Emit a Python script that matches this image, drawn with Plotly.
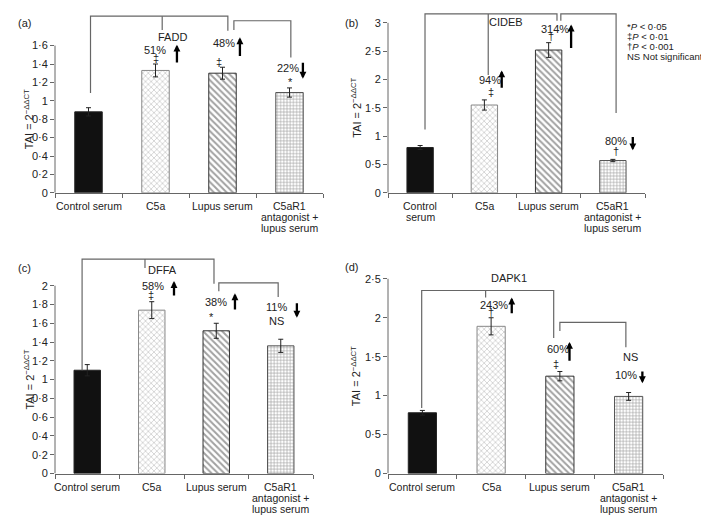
import plotly.graph_objects as go

W, H = 709, 515

# ---- data ----
labels = ["Control serum", "C5a", "Lupus serum", "C5aR1<br>antagonist +<br>lupus serum"]
labels_b = ["Control<br>serum", "C5a", "Lupus serum", "C5aR1<br>antagonist +<br>lupus serum"]
xpos = [0, 1, 2, 3]

fadd = [0.88, 1.33, 1.30, 1.09]
fadd_err = [0.045, 0.07, 0.065, 0.05]
cideb = [0.80, 1.55, 2.52, 0.57]
cideb_err = [0.035, 0.09, 0.13, 0.02]
dffa = [1.10, 1.74, 1.52, 1.36]
dffa_err = [0.06, 0.09, 0.08, 0.07]
dapk1 = [0.78, 1.89, 1.25, 0.99]
dapk1_err = [0.03, 0.11, 0.06, 0.05]

ticks_a = [0, 0.2, 0.4, 0.6, 0.8, 1, 1.2, 1.4, 1.6]
ticks_b = [0, 0.5, 1, 1.5, 2, 2.5, 3]
ticks_c = [0, 0.2, 0.4, 0.6, 0.8, 1, 1.2, 1.4, 1.6, 1.8, 2]
ticks_d = [0, 0.5, 1, 1.5, 2, 2.5]

# comparison brackets (category index, value)
brackets_a = [[(0.03, 1.085), (0.03, 1.92), (2.08, 1.92), (2.08, 1.76)],
              [(1.10, 1.92), (1.10, 1.77)],
              [(2.17, 1.77), (2.17, 1.87), (3.02, 1.87), (3.02, 1.47)]]
brackets_b = [[(0.076, 1.116), (0.076, 3.157), (2.13, 3.157), (2.13, 3.035)],
              [(1.06, 3.157), (1.06, 2.08)],
              [(2.19, 3.035), (2.19, 3.157), (3.05, 3.157), (3.05, 1.41)]]
brackets_c = [[(-0.08, 1.10), (-0.08, 2.284), (1.965, 2.284), (1.965, 2.02)],
              [(0.895, 2.284), (0.895, 2.19)],
              [(2.04, 1.94), (2.04, 2.03), (2.96, 2.03), (2.96, 1.88)]]
brackets_d = [[(-0.01, 0.84), (-0.01, 2.35), (1.91, 2.35), (1.91, 1.74)],
              [(0.92, 2.35), (0.92, 2.26)],
              [(2.0, 1.83), (2.0, 1.94), (2.96, 1.94), (2.96, 1.62)]]

# notes: (text, x, y)  and arrows: (x, from, to)
notes_a = [("FADD", 1.26, 1.69), ("51%", 0.99, 1.55), ("‡", 1.0, 1.46), ("48%", 2.02, 1.63),
           ("‡", 1.95, 1.42), ("22%", 2.98, 1.36), ("*", 3.02, 1.20)]
arrows_a = [(1.32, 1.40, 1.61), (2.26, 1.47, 1.69), (3.20, 1.43, 1.24)]
notes_b = [("CIDEB", 1.34, 3.02), ("314%", 2.1, 2.90), ("†", 2.04, 2.76), ("94%", 1.09, 1.99),
           ("‡", 1.10, 1.78), ("80%", 3.05, 0.92), ("†", 3.05, 0.73)]
arrows_b = [(2.35, 2.53, 2.97), (1.27, 1.83, 2.16), (3.31, 1.01, 0.75)]
notes_c = [("DFFA", 1.16, 2.17), ("58%", 1.02, 2.0), ("‡", 0.99, 1.905), ("38%", 2.0, 1.83),
           ("*", 1.93, 1.67), ("11%", 2.93, 1.77), ("NS", 2.94, 1.62)]
arrows_c = [(1.345, 1.88, 2.05), (2.29, 1.73, 1.92), (3.25, 1.83, 1.66)]
notes_d = [("DAPK1", 1.26, 2.51), ("243%", 1.04, 2.16), ("†", 1.0, 2.08), ("60%", 1.97, 1.60),
           ("‡", 1.94, 1.41), ("NS", 3.02, 1.50), ("10%", 2.96, 1.26)]
arrows_d = [(1.30, 2.04, 2.26), (2.14, 1.43, 1.69), (3.20, 1.33, 1.16)]

FONT = "Liberation Sans, Arial, sans-serif"
INK = "#222"

# panel geometry in pixels: left, right, y of zero, px per unit, top
panels = [
    dict(tag="(a)", lab=labels, y=fadd, e=fadd_err, ticks=ticks_a, br=brackets_a, notes=notes_a, arr=arrows_a,
         x0=47, x1=315, zero=187, k=93.1, top=0, lx=8, ly=7, tx=12),
    dict(tag="(b)", lab=labels_b, y=cideb, e=cideb_err, ticks=ticks_b, br=brackets_b, notes=notes_b, arr=arrows_b,
         x0=380, x1=637, zero=187, k=57.33, top=0, lx=343, ly=7, tx=348),
    dict(tag="(c)", lab=labels, y=dffa, e=dffa_err, ticks=ticks_c, br=brackets_c, notes=notes_c, arr=arrows_c,
         x0=47, x1=305, zero=471, k=95.0, top=248, lx=8, ly=263, tx=12),
    dict(tag="(d)", lab=labels, y=dapk1, e=dapk1_err, ticks=ticks_d, br=brackets_d, notes=notes_d, arr=arrows_d,
         x0=380, x1=655, zero=471, k=78.8, top=262, lx=343, ly=262, tx=348),
]

fig = go.Figure()
shapes, annos = [], []
layout = {}

for i, p in enumerate(panels):
    s = "" if i == 0 else str(i + 1)
    xa, ya = "x" + s, "y" + s
    ytop = (p["zero"] - p["top"]) / p["k"]

    fig.add_trace(go.Bar(
        x=xpos, y=p["y"], xaxis=xa, yaxis=ya, width=0.41, showlegend=False,
        error_y=dict(type="data", array=p["e"], color=INK, thickness=1, width=2.5),
        marker=dict(color=["#111", "white", "white", "white"],
                    line=dict(color=["#222", "#888", "#333", "#555"], width=1),
                    pattern=dict(shape=["", "x", "\\", "+"],
                                 fgcolor=["#111", "#888", "#000", "#222"],
                                 bgcolor=["#111", "white", "white", "white"],
                                 size=[4, 4, 4.5, 3.2], solidity=[0.3, 0.2, 0.45, 0.35],
                                 fillmode="overlay"))))

    for line in p["br"]:
        fig.add_trace(go.Scatter(x=[q[0] for q in line], y=[q[1] for q in line], mode="lines",
                                 line=dict(color="#666", width=1.2), xaxis=xa, yaxis=ya,
                                 showlegend=False, hoverinfo="skip"))

    layout["xaxis" + s] = dict(domain=[p["x0"] / W, p["x1"] / W], anchor=ya, range=[-0.5, 3.5],
                               tickvals=xpos, ticktext=["", "", "", ""], ticks="", showline=True,
                               linecolor="#666", linewidth=1, showgrid=False, zeroline=False,
                               minor=dict(ticks="outside", tick0=-0.5, dtick=1, ticklen=4,
                                          tickcolor="#666", tickwidth=1))
    layout["yaxis" + s] = dict(domain=[1 - p["zero"] / H, 1 - p["top"] / H], anchor=xa,
                               range=[0, ytop], tickvals=p["ticks"],
                               ticktext=[("%g" % t).replace(".", "·") for t in p["ticks"]],
                               ticks="outside", ticklen=4, tickcolor="#666", showline=False,
                               showgrid=False, zeroline=False,
                               tickfont=dict(size=11, color=INK, family=FONT))

    # y axis line only up to the top tick
    shapes.append(dict(type="line", xref=xa + " domain", x0=0, x1=0, yref=ya,
                       y0=0, y1=p["ticks"][-1], line=dict(color="#666", width=1)))

    # category labels, one line at a time for tight line spacing
    for c, lab in zip(xpos, p["lab"]):
        for j, part in enumerate(lab.split("<br>")):
            annos.append(dict(text=part, x=c, y=0, xref=xa, yref=ya, showarrow=False,
                              yshift=-13.5 - 11 * j, font=dict(size=10.5, color=INK, family=FONT)))

    for t, x, y in p["notes"]:
        annos.append(dict(text=t, x=x, y=y, xref=xa, yref=ya, showarrow=False,
                          font=dict(size=11, color=INK, family=FONT)))
    for x, y0, y1 in p["arr"]:
        annos.append(dict(text="", x=x, y=y1, ax=x, ay=y0, xref=xa, yref=ya, axref=xa, ayref=ya,
                          showarrow=True, arrowhead=2, arrowsize=0.6, arrowwidth=2.3,
                          arrowcolor="#000", standoff=0, startstandoff=0))

    annos.append(dict(text=p["tag"], x=p["lx"] / W, y=1 - p["ly"] / H, xref="paper", yref="paper",
                      showarrow=False, font=dict(size=11, color=INK, family=FONT)))
    annos.append(dict(text="TAI = 2<sup>−ΔΔCT</sup>", textangle=-90, x=p["tx"] / W, y=p["ticks"][-1] / 2,
                      xref="paper", yref=ya, showarrow=False,
                      font=dict(size=11, color=INK, family=FONT)))

# significance key
key = ["*<i>P</i> < 0·05", "‡<i>P</i> < 0·01", "†<i>P</i> < 0·001", "NS Not significant"]
for j, t in enumerate(key):
    annos.append(dict(text=t, x=617 / W, y=1 - (11 + 10 * j) / H, xref="paper", yref="paper",
                      xanchor="left", showarrow=False, font=dict(size=9.5, color=INK, family=FONT)))

fig.update_layout(width=W, height=H, margin=dict(l=0, r=0, t=0, b=0),
                  paper_bgcolor="white", plot_bgcolor="white", bargap=0.5,
                  shapes=shapes, annotations=annos, font=dict(family=FONT), **layout)

fig.write_html("out.html")
